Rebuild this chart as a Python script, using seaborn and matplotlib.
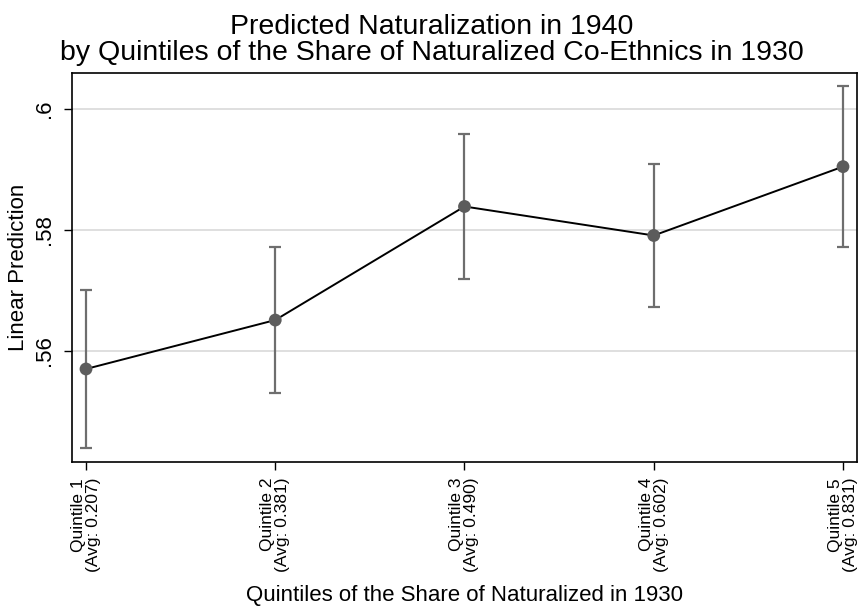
import matplotlib
matplotlib.use('Agg')
import matplotlib.pyplot as plt
import seaborn as sns
import pandas as pd
import numpy as np

# values
quintiles = ['Quintile 1\n(Avg: 0.207)', 'Quintile 2\n(Avg: 0.381)', 'Quintile 3\n(Avg: 0.490)',
             'Quintile 4\n(Avg: 0.602)', 'Quintile 5\n(Avg: 0.831)']
prediction = [0.5570, 0.5651, 0.5839, 0.5791, 0.5905]
ci_low = [0.5440, 0.5530, 0.5719, 0.5672, 0.5772]
ci_high = [0.5701, 0.5772, 0.5959, 0.5910, 0.6038]
y_ticks = [0.56, 0.58, 0.60]
y_tick_labels = ['.56', '.58', '.6']


def main():
    sns.set_style('white')
    plt.rcParams['font.family'] = ['Liberation Sans', 'DejaVu Sans']
    plt.rcParams['text.color'] = 'black'
    plt.rcParams['axes.labelcolor'] = 'black'
    plt.rcParams['xtick.color'] = 'black'
    plt.rcParams['ytick.color'] = 'black'

    data = pd.DataFrame({'pos': np.arange(len(quintiles)), 'pred': prediction,
                         'lo': ci_low, 'hi': ci_high})

    fig = plt.figure(figsize=(8.6, 6.07), dpi=100)
    ax = fig.add_axes([72 / 860, 1 - 462 / 607, 785 / 860, 389 / 607])

    for y in y_ticks:
        ax.axhline(y, color='#dcdcdc', lw=1.3, zorder=0)

    ax.errorbar(data['pos'], data['pred'],
                yerr=[data['pred'] - data['lo'], data['hi'] - data['pred']],
                fmt='none', ecolor='#6e6e6e', elinewidth=1.6, capsize=4.5, capthick=1.6, zorder=2)
    sns.lineplot(x='pos', y='pred', data=data, color='black', lw=1.4, ax=ax, zorder=3)
    sns.scatterplot(x='pos', y='pred', data=data, color='#5c5c5c', s=85, edgecolor='none',
                    ax=ax, zorder=4)

    ax.set_xlim(-0.074, 4.074)
    ax.set_ylim(0.5416, 0.6060)
    ax.set_xticks(range(len(quintiles)))
    ax.set_xticklabels(quintiles, rotation=90, fontsize=12.5, linespacing=1.0,
                       multialignment='right')
    ax.set_yticks(y_ticks)
    ax.set_yticklabels(y_tick_labels, rotation=90, va='center', fontsize=16)
    ax.tick_params(axis='both', direction='out', length=6, width=1, color='black',
                   labelcolor='black', left=True, bottom=True)
    ax.tick_params(axis='x', pad=5.5)
    ax.tick_params(axis='y', pad=6)

    for side in ['left', 'bottom', 'top', 'right']:
        ax.spines[side].set_color('black')
        ax.spines[side].set_linewidth(1.2)

    ax.set_xlabel('Quintiles of the Share of Naturalized in 1930', fontsize=16, va='baseline')
    ax.xaxis.set_label_coords(0.5, (462 - 601) / 389)
    ax.set_ylabel('Linear Prediction', fontsize=16, labelpad=4)

    fig.text(431.5 / 860, 1 - 66 / 607,
             'Predicted Naturalization in 1940\nby Quintiles of the Share of Naturalized Co-Ethnics in 1930',
             ha='center', va='bottom', fontsize=20.5, linespacing=1.0, color='black')

    fig.savefig('out.png', dpi=100)


if __name__ == '__main__':
    main()
